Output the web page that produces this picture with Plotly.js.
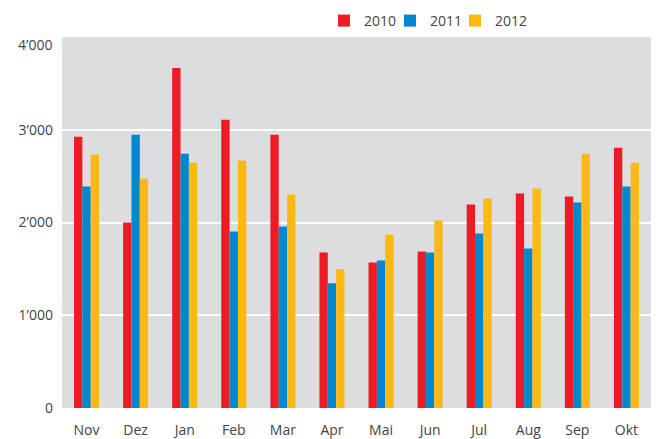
<!DOCTYPE html>
<html><head><meta charset="utf-8">
<script src="https://cdn.plot.ly/plotly-3.0.1.min.js"></script>
<style>body{margin:0;background:#fff}#c{width:656px;height:439px}</style>
</head><body><div id="c"></div>
<script>
var months = ["Nov","Dez","Jan","Feb","Mar","Apr","Mai","Jun","Jul","Aug","Sep","Okt"];
var v2010 = [2925,2000,3667,3108,2946,1677,1570,1688,2194,2312,2280,2806];
var v2011 = [2387,2946,2742,1903,1957,1344,1591,1677,1882,1720,2215,2387];
var v2012 = [2731,2473,2645,2667,2301,1495,1871,2022,2258,2366,2742,2645];
var yTickVals = [0,1000,2000,3000];
var yTickText = ["0","1’000","2’000","3’000"];
var topLabel = "4’000";

var font = "Open Sans, Noto Sans, sans-serif";
function tr(name, y, color, lg){
  return {type:"bar", name:name, x:months, y:y, legend:lg, marker:{color:color, line:{width:0}}};
}
var data = [tr("2010", v2010, "#ed1c24", "legend"), tr("2011", v2011, "#0088cf", "legend2"), tr("2012", v2012, "#fdb913", "legend3")];
function lg(x){
  return {orientation:"h", x:x, xanchor:"left", y:1.0, yanchor:"bottom",
          font:{size:14, color:"#444", family:font},
          itemwidth:30, bgcolor:"rgba(0,0,0,0)"};
}
var layout = {
  width:656, height:439,
  margin:{l:62, r:5, t:37, b:31, autoexpand:false},
  paper_bgcolor:"#ffffff", plot_bgcolor:"#dcdddf",
  barmode:"group", bargap:0.49, bargroupgap:0,
  font:{family:font, color:"#444"},
  showlegend:true,
  legend:lg(0.4448), legend2:lg(0.5569), legend3:lg(0.6672),
  xaxis:{showgrid:false, zeroline:false, showline:false, ticks:"", tickfont:{size:14, color:"#444"},
         ticklabelstandoff:12, fixedrange:true},
  yaxis:{range:[0,4000], tickvals:yTickVals, ticktext:yTickText, showgrid:true, gridcolor:"#ffffff", gridwidth:2,
         zeroline:false, showline:false, ticks:"", tickfont:{size:14, color:"#444"}, ticklabelstandoff:8, fixedrange:true},
  annotations:[{text:topLabel, xref:"paper", yref:"paper", x:0, xanchor:"right", xshift:-8, y:1, yanchor:"middle", yshift:-7,
                showarrow:false, font:{size:14, color:"#444", family:font}}]
};
Plotly.newPlot("c", data, layout, {displayModeBar:false, staticPlot:true});
</script></body></html>
